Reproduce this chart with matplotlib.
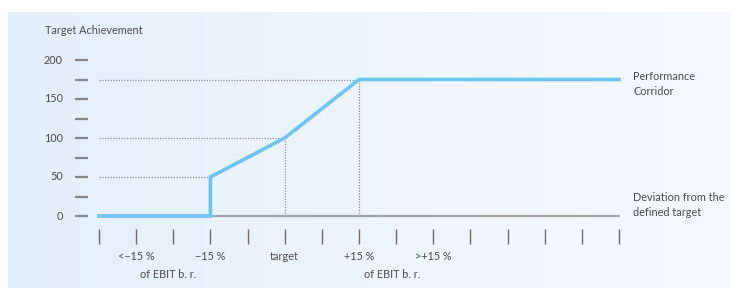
import numpy as np
import matplotlib.pyplot as plt
from matplotlib.colors import LinearSegmentedColormap

plt.rcParams['font.family'] = ['Lato', 'DejaVu Sans']

# Données de la courbe (positions sur l'axe des écarts, 0..14)
curve_x = [0, 3, 3, 5, 7, 14]
curve_y = [0, 0, 50, 100, 175, 175]

y_ticks = [0, 25, 50, 75, 100, 125, 150, 175, 200]
y_labels = ['0', '', '50', '', '100', '', '150', '', '200']
x_ticks = list(range(15))

# Repères en pointillés : (niveau, position x)
guides = [(50, 3), (100, 5), (175, 7)]

x_label_pos = [1, 3, 5, 7, 9]
x_labels = ['<\u221215 %', '\u221215 %', 'target', '+15 %', '>+15 %']
sub_label_pos = [1.85, 7.9]
sub_labels = ['of EBIT b. r.', 'of EBIT b. r.']

blue = '#6cc5f0'
gray = '#a3a3a3'
txt = '#4a4a4a'
fs = 7.8

W, H = 731, 288
fig = plt.figure(figsize=(W / 100, H / 100), dpi=100)

# Fond en dégradé
bg = fig.add_axes([8 / W, 0, (W - 8) / W, (H - 12) / H])
cmap = LinearSegmentedColormap.from_list('bg', ['#e3effa', '#f6fafe'])
grad = np.linspace(0, 1, 256).reshape(1, -1)
bg.imshow(grad, aspect='auto', cmap=cmap, extent=[0, 1, 0, 1])
bg.axis('off')

# Axe principal : x=0 -> px 99, x=14 -> px 619 ; y=0 -> px 216, y=200 -> px 60
ax = fig.add_axes([99 / W, (H - 216) / H, 520 / W, 156 / H])
ax.set_xlim(0, 14)
ax.set_ylim(0, 200)
ax.axis('off')
ax.patch.set_alpha(0)

# Ligne de base
ax.plot([0, 14], [0, 0], color=gray, lw=1.6, zorder=2, clip_on=False)

# Pointillés
for level, xp in guides:
    ax.plot([0, xp], [level, level], color='#8c8c8c', lw=0.9, ls=(0, (1, 1.2)), zorder=1)
    if xp in (5, 7):
        ax.plot([xp, xp], [0, level], color='#8c8c8c', lw=0.9, ls=(0, (1, 1.2)), zorder=1)

# Courbe
ax.plot(curve_x, curve_y, color=blue, lw=2.6, solid_joinstyle='miter', zorder=3, clip_on=False)

# Graduations y (tirets) et étiquettes
px = 14 / 520  # unité x par pixel
for t, lab in zip(y_ticks, y_labels):
    ax.plot([-24 * px, -11 * px], [t, t], color='#888888', lw=1.6, clip_on=False,
            solid_capstyle='butt')
    if lab:
        ax.text(-36 * px, t, lab, ha='right', va='center', fontsize=fs, color=txt)

# Graduations x (barres verticales)
py = 200 / 156  # unité y par pixel
for t in x_ticks:
    ax.plot([t, t], [-13 * py, -28 * py], color='#6a6a6a', lw=1.0, clip_on=False,
            solid_capstyle='butt')

for xp, lab in zip(x_label_pos, x_labels):
    ax.text(xp, -41 * py, lab, ha='center', va='center', fontsize=fs, color=txt)
for xp, lab in zip(sub_label_pos, sub_labels):
    ax.text(xp, -59 * py, lab, ha='center', va='center', fontsize=fs, color=txt)

fig.text(45 / W, 1 - 31 / H, 'Target Achievement', ha='left', va='center',
         fontsize=fs, color=txt)
fig.text(633 / W, 1 - 84 / H, 'Performance\nCorridor', ha='left', va='center',
         fontsize=fs, color=txt, linespacing=1.45)
fig.text(633 / W, 1 - 205 / H, 'Deviation from the\ndefined target', ha='left',
         va='center', fontsize=fs, color=txt, linespacing=1.45)

fig.savefig('out.png', dpi=100)
